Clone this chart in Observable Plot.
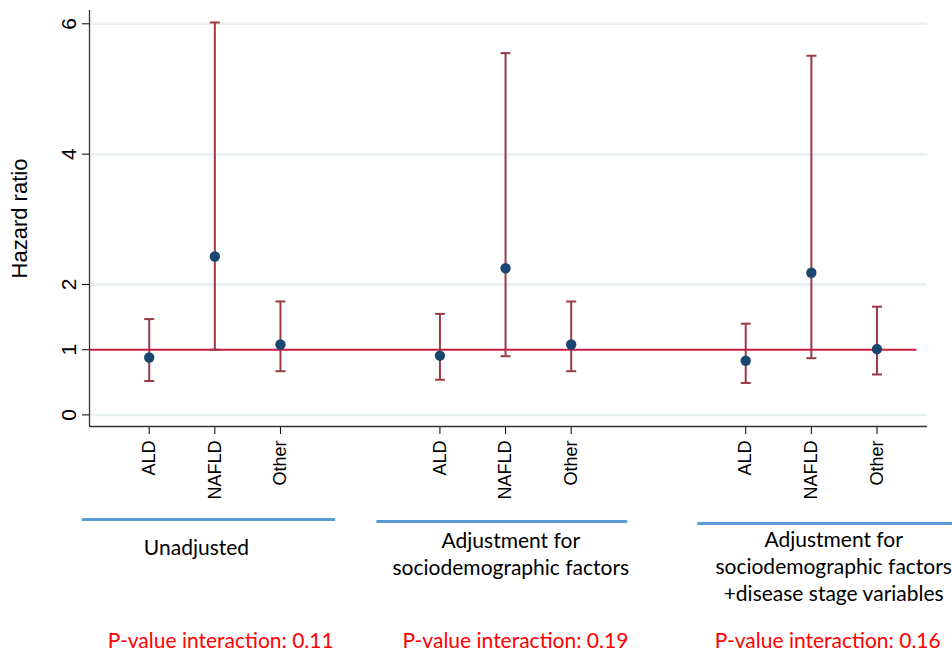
<!DOCTYPE html>
<html>
<head>
<meta charset="utf-8">
<script src="https://cdn.jsdelivr.net/npm/d3@7"></script>
<script src="https://cdn.jsdelivr.net/npm/@observablehq/plot@0.6"></script>
<style>
  html, body { margin: 0; padding: 0; background: #fff; }
  #chart { width: 952px; height: 653px; }
</style>
</head>
<body>
<div id="chart"></div>
<script>
// ---- data ----
const causes = ["ALD", "NAFLD", "Other"];
const models = [
  "Unadjusted",
  "Adjustment for\nsociodemographic factors",
  "Adjustment for\nsociodemographic factors\n+disease stage variables"
];
const hazardRatio = [
  [0.88, 2.43, 1.08],
  [0.91, 2.25, 1.08],
  [0.83, 2.18, 1.01]
];
const ciLower = [
  [0.52, 1.00, 0.67],
  [0.54, 0.90, 0.67],
  [0.49, 0.87, 0.62]
];
const ciUpper = [
  [1.47, 6.02, 1.74],
  [1.55, 5.55, 1.74],
  [1.40, 5.51, 1.66]
];
const pValues = ["0.11", "0.19", "0.16"];
const yTicks = [0, 1, 2, 4, 6];
const referenceValue = 1;

// ---- layout (not data) ----
const groupStart = [0, 4.43, 9.09];
const xDomain = [-0.91, 11.86];
const yDomain = [-0.178, 6.204];
const labelX = [0.72, 5.51, 10.43];
const labelDy = [109, 102, 101];
const pX = [1.09, 5.58, 10.34];
const bar = [[-1.02, 2.84, 93], [3.47, 7.29, 95], [8.36, 12.24, 97]];

const rows = [];
models.forEach((m, g) => causes.forEach((c, i) => rows.push({
  model: m, cause: c, pos: groupStart[g] + i,
  hr: hazardRatio[g][i], lo: ciLower[g][i], hi: ciUpper[g][i]
})));
const labelOf = new Map(rows.map(r => [r.pos, r.cause]));
const groups = models.map((m, g) => ({
  text: m, x: labelX[g], dy: labelDy[g], p: "P-value interaction: " + pValues[g], px: pX[g],
  x1: bar[g][0], x2: bar[g][1], bdy: bar[g][2]
}));

const capSymbol = { draw(ctx, size) { const w = Math.sqrt(size / Math.PI); ctx.moveTo(-w, 0); ctx.lineTo(w, 0); } };

const ciColor = "#993a45";
const annFont = "Lato, 'Noto Sans', sans-serif";

const plot = Plot.plot({
  width: 952,
  height: 653,
  marginLeft: 89,
  marginRight: 25,
  marginTop: 10,
  marginBottom: 227,
  style: { fontFamily: "'Liberation Sans', Arial, sans-serif", fontSize: "18px", color: "#000", background: "#fff" },
  x: {
    domain: xDomain,
    ticks: rows.map(r => r.pos),
    tickFormat: d => labelOf.get(d) ?? "",
    tickRotate: -90,
    tickSize: 8,
    tickPadding: 6,
    label: null
  },
  y: {
    domain: yDomain,
    ticks: yTicks,
    tickFormat: () => "",
    tickSize: 7,
    label: null
  },
  marks: [
    Plot.ruleY([0, 2, 4, 6], { stroke: "#e8f0f1", strokeWidth: 2.5 }),
    Plot.ruleY([referenceValue], { x1: xDomain[0], x2: 11.70, stroke: "#d01a40", strokeWidth: 2 }),
    Plot.ruleX([xDomain[0]], { stroke: "#333", strokeWidth: 1.3 }),
    Plot.ruleY([yDomain[0]], { stroke: "#333", strokeWidth: 1.3 }),
    Plot.ruleX(rows, { x: "pos", y1: "lo", y2: "hi", stroke: ciColor, strokeWidth: 2 }),
    Plot.dot(rows, { x: "pos", y: "hi", symbol: capSymbol, r: 5, stroke: ciColor, strokeWidth: 2, fill: "none" }),
    Plot.dot(rows, { x: "pos", y: "lo", symbol: capSymbol, r: 5, stroke: ciColor, strokeWidth: 2, fill: "none" }),
    Plot.dot(rows, { x: "pos", y: "hr", r: 5.2, fill: "#1a476f", stroke: "none" }),
    // y tick labels (rotated)
    Plot.text(yTicks, { x: xDomain[0], y: d => d, text: d => String(d), rotate: -90, dx: -20, textAnchor: "middle", lineAnchor: "middle", fontSize: 21 }),
    // y axis title
    Plot.text(["Hazard ratio"], { frameAnchor: "left", rotate: -90, dx: -70, textAnchor: "middle", fontSize: 22 }),
    // group underline bars
    ...groups.map(g => Plot.ruleY([yDomain[0]], { x1: g.x1, x2: g.x2, dy: g.bdy, stroke: "#5b9bd5", strokeWidth: 3 })),
    // group labels
    ...groups.map(g => Plot.text([g], { x: "x", frameAnchor: "bottom", dy: g.dy, text: "text", lineAnchor: "top", fontSize: 21, lineHeight: 1.3, fontFamily: annFont, fill: "#000" })),
    Plot.text(groups, { x: "px", frameAnchor: "bottom", dy: 221, text: "p", fontSize: 21, fontFamily: annFont, fill: "#ff0000" })
  ]
});
document.getElementById("chart").appendChild(plot);
</script>
</body>
</html>
